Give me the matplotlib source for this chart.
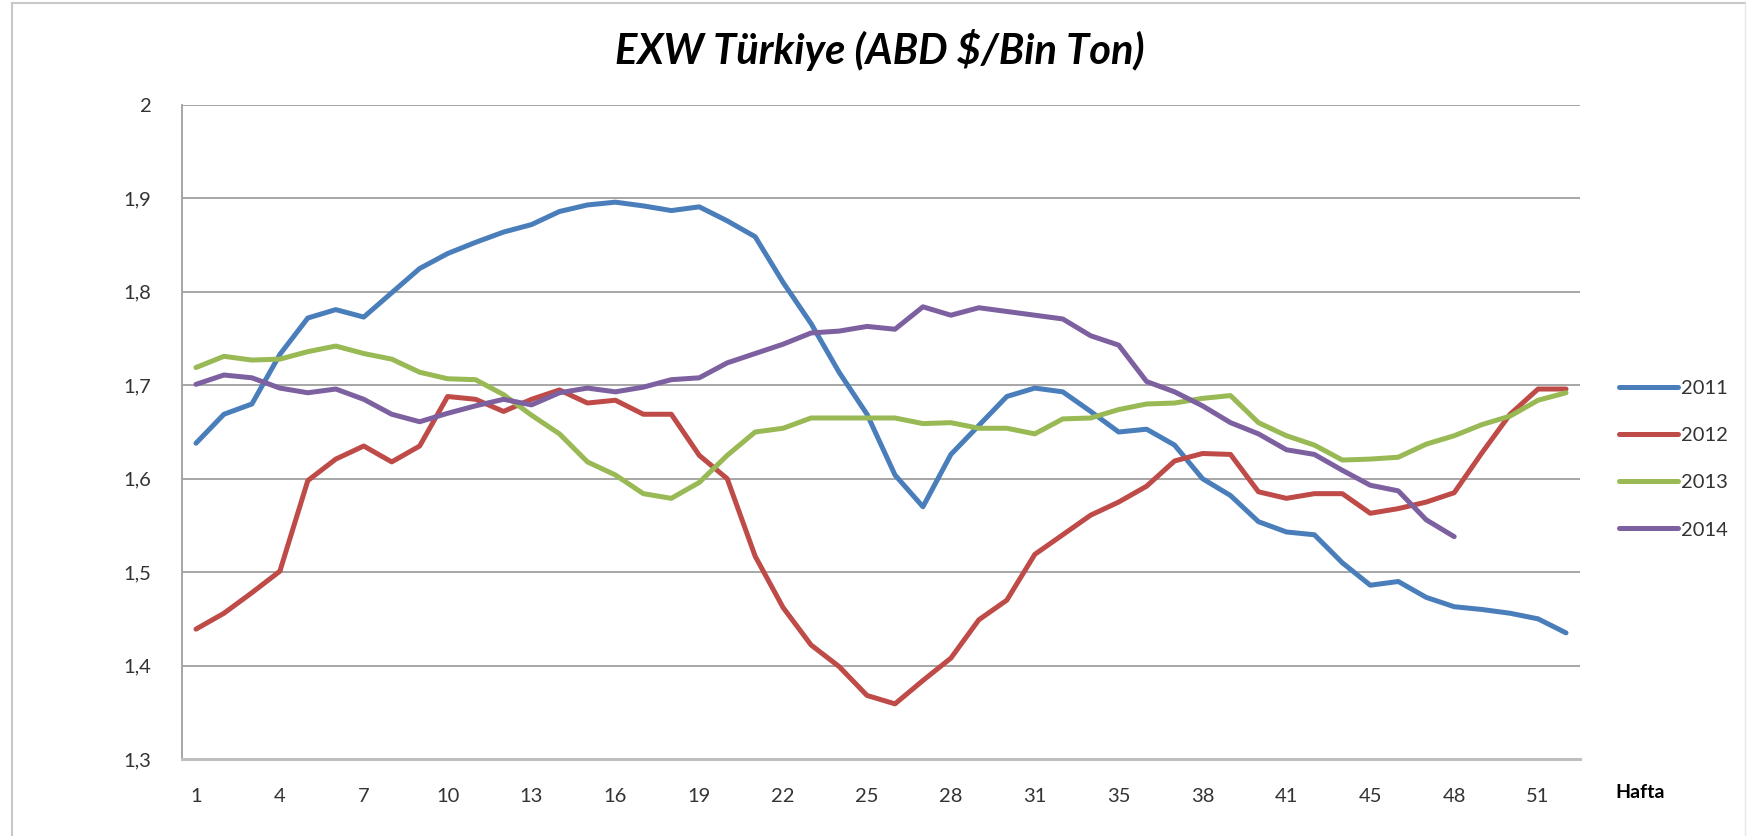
import matplotlib.pyplot as plt
from matplotlib.lines import Line2D

# weeks on the category axis (two weeks missing in the source data)
weeks = list(range(1, 32)) + list(range(33, 42)) + list(range(43, 53))

y2011 = [1.638, 1.669, 1.680, 1.733, 1.772, 1.781, 1.773, 1.799, 1.825, 1.841,
         1.853, 1.864, 1.872, 1.886, 1.893, 1.896, 1.892, 1.887, 1.891, 1.876,
         1.859, 1.810, 1.766, 1.714, 1.669, 1.604, 1.570, 1.626, 1.657, 1.688,
         1.697, 1.693, 1.672, 1.650, 1.653, 1.636, 1.600, 1.582, 1.554, 1.543,
         1.540, 1.510, 1.486, 1.490, 1.473, 1.463, 1.460, 1.456, 1.450, 1.435]
y2012 = [1.439, 1.456, 1.478, 1.501, 1.598, 1.621, 1.635, 1.618, 1.635, 1.688,
         1.685, 1.672, 1.685, 1.695, 1.681, 1.684, 1.669, 1.669, 1.625, 1.600,
         1.517, 1.462, 1.422, 1.399, 1.368, 1.359, 1.384, 1.408, 1.449, 1.470,
         1.519, 1.540, 1.561, 1.575, 1.592, 1.619, 1.627, 1.626, 1.586, 1.579,
         1.584, 1.584, 1.563, 1.568, 1.575, 1.585, 1.628, 1.669, 1.696, 1.696]
y2013 = [1.719, 1.731, 1.727, 1.728, 1.736, 1.742, 1.734, 1.728, 1.714, 1.707,
         1.706, 1.690, 1.668, 1.648, 1.618, 1.604, 1.584, 1.579, 1.596, 1.625,
         1.650, 1.654, 1.665, 1.665, 1.665, 1.665, 1.659, 1.660, 1.654, 1.654,
         1.648, 1.664, 1.665, 1.674, 1.680, 1.681, 1.686, 1.689, 1.660, 1.646,
         1.636, 1.620, 1.621, 1.623, 1.637, 1.646, 1.658, 1.667, 1.684, 1.692]
y2014 = [1.701, 1.711, 1.708, 1.697, 1.692, 1.696, 1.685, 1.669, 1.661, 1.670,
         1.678, 1.685, 1.679, 1.692, 1.697, 1.693, 1.698, 1.706, 1.708, 1.724,
         1.734, 1.744, 1.756, 1.758, 1.763, 1.760, 1.784, 1.775, 1.783, 1.779,
         1.775, 1.771, 1.753, 1.743, 1.704, 1.693, 1.678, 1.660, 1.648, 1.631,
         1.626, 1.609, 1.593, 1.587, 1.556, 1.538]

series = [('2011', y2011, '#4A7EBB'), ('2012', y2012, '#BE4B48'),
          ('2013', y2013, '#98B954'), ('2014', y2014, '#7D60A0')]

plt.rcParams['font.family'] = ['Lato', 'DejaVu Sans']

fig = plt.figure(figsize=(17.47, 8.36), dpi=100)
ax = fig.add_axes([182 / 1747, 1 - 759 / 836, (1580 - 182) / 1747, (759 - 105) / 836])

handles = []
for name, vals, col in series:
    h, = ax.plot(range(len(vals)), vals, color=col, lw=3.6, label=name,
                 solid_joinstyle='round', solid_capstyle='round')
    handles.append(h)

ax.set_xlim(-0.5, len(weeks) - 0.5)
ax.set_ylim(1.3, 2.0)
yt = [1.3, 1.4, 1.5, 1.6, 1.7, 1.8, 1.9, 2.0]
ax.set_yticks(yt)
ax.set_yticklabels(['2' if v == 2.0 else f'{v:.1f}'.replace('.', ',') for v in yt])
xt = list(range(0, len(weeks), 3))
ax.set_xticks(xt)
ax.set_xticklabels([str(weeks[i]) for i in xt])

ax.grid(axis='y', color='#a6a6a6', lw=1.4)
ax.set_axisbelow(True)
ax.tick_params(length=0, labelsize=14.5, labelcolor='#333333')
ax.tick_params(axis='y', pad=22)
ax.tick_params(axis='x', pad=21)
for s in ['top', 'right']:
    ax.spines[s].set_visible(False)
ax.spines['left'].set_color('#a6a6a6')
ax.spines['left'].set_linewidth(1.4)
ax.spines['bottom'].set_color('#bfbfbf')
ax.spines['bottom'].set_linewidth(2.2)

fig.text(880 / 1747, 1 - 50 / 836, 'EXW Türkiye (ABD $/Bin Ton)', ha='center', va='center',
         fontsize=30, fontweight='bold', fontstyle='italic', color='black')
fig.text(1615 / 1747, 1 - 793 / 836, 'Hafta', ha='left', va='center',
         fontsize=14, fontweight='bold', color='black')

fig.legend(handles=handles, loc='center left', bbox_to_anchor=(1601 / 1747, 1 - 459 / 836),
           frameon=False, fontsize=14.5, handlelength=2.9, handletextpad=0.15,
           labelspacing=1.5, labelcolor='#333333')

# light border of the chart area
border = '#c8c8c8'
fig.add_artist(Line2D([12 / 1747, 12 / 1747], [0, 1 - 3 / 836], color=border, lw=1.5))
fig.add_artist(Line2D([12 / 1747, 1745 / 1747], [1 - 3 / 836, 1 - 3 / 836], color=border, lw=1.5))
fig.add_artist(Line2D([1745 / 1747, 1745 / 1747], [0, 1 - 3 / 836], color='#e6e6e6', lw=1.0))

fig.savefig('out.png', dpi=100)
